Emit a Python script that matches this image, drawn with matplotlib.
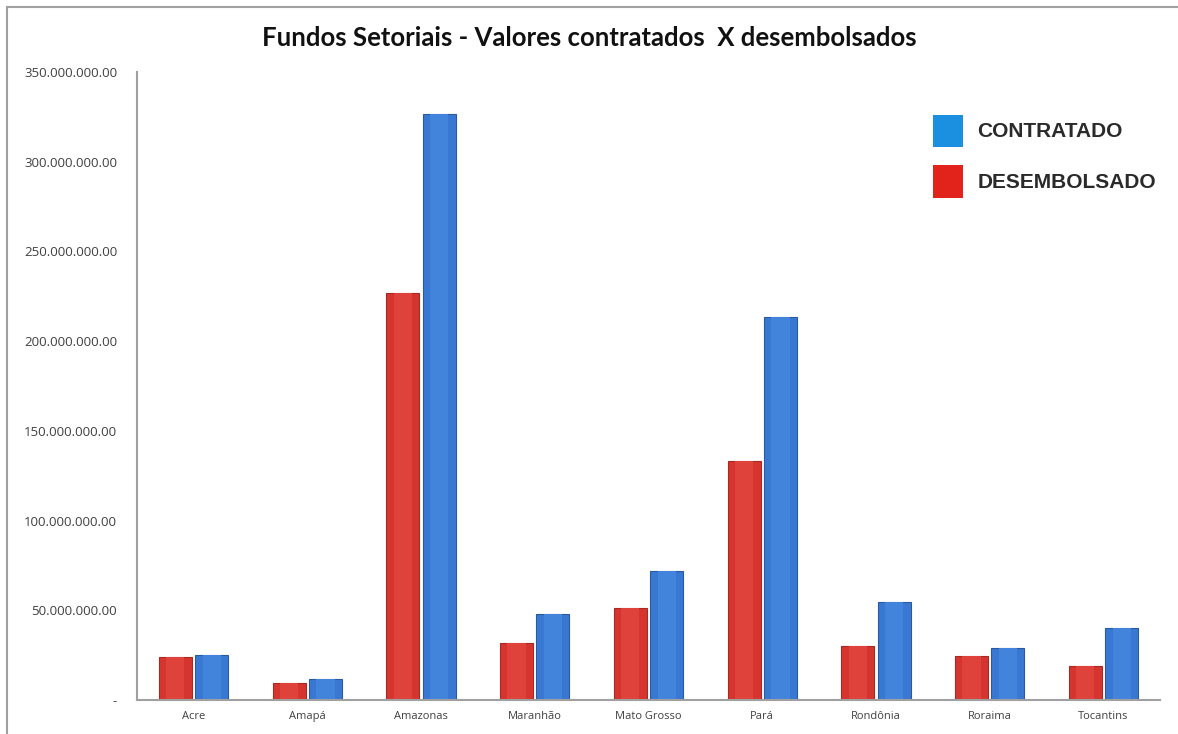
import matplotlib
matplotlib.use("Agg")
import matplotlib.pyplot as plt
import numpy as np
from matplotlib.patches import Patch, Rectangle
from matplotlib.ticker import FuncFormatter, MultipleLocator

categories = ["Acre", "Amapá", "Amazonas", "Maranhão", "Mato Grosso", "Pará",
              "Rondônia", "Roraima", "Tocantins"]
desembolsado = [23.9e6, 9.4e6, 227e6, 32e6, 51.5e6, 133e6, 30e6, 24.5e6, 19e6]
contratado = [25e6, 12e6, 326.5e6, 48e6, 72e6, 213.5e6, 55e6, 29e6, 40.5e6]
title = "Fundos Setoriais - Valores contratados  X desembolsados"

fig = plt.figure(figsize=(11.78, 7.34), dpi=100)
fig.patch.set_facecolor("white")
fig.add_artist(Rectangle((0.006, -0.01), 1.0, 1.0, transform=fig.transFigure,
                         fill=False, edgecolor="#a0a0a0", linewidth=1.5))
ax = fig.add_axes([0.116, 0.046, 0.869, 0.856])

x = np.arange(len(categories))
w = 0.29
gap = 0.015
red = "#d6352f"
blue = "#3978d2"
ax.bar(x - w / 2 - gap, desembolsado, width=w, color=red, edgecolor="#a52a24", linewidth=0.8)
ax.bar(x + w / 2 + gap, contratado, width=w, color=blue, edgecolor="#2a5a9e", linewidth=0.8)
# subtle highlight inside bars
ax.bar(x - w / 2 - gap, desembolsado, width=w * 0.55, color="#df423b", linewidth=0)
ax.bar(x + w / 2 + gap, contratado, width=w * 0.55, color="#4284dc", linewidth=0)

ax.set_xlim(-0.5, len(categories) - 0.5)
ax.set_ylim(0, 350e6)
ax.yaxis.set_major_locator(MultipleLocator(50e6))

def fmt(v, pos):
    if v == 0:
        return "-"
    return f"{v:,.2f}".replace(",", ".")

ax.yaxis.set_major_formatter(FuncFormatter(fmt))
ax.set_xticks(x)
ax.set_xticklabels(categories)
ax.tick_params(axis="both", length=0, colors="#404040", labelfontfamily="Open Sans")
ax.tick_params(axis="y", pad=14, labelsize=9.5)
ax.tick_params(axis="x", pad=8, labelsize=8)
for s in ["top", "right"]:
    ax.spines[s].set_visible(False)
ax.spines["left"].set_color("#a0a0a0")
ax.spines["bottom"].set_color("#a0a0a0")
ax.spines["left"].set_linewidth(1.5)
ax.spines["bottom"].set_linewidth(1.5)

fig.text(0.5, 0.948, title, ha="center", va="center", fontsize=18.5, fontweight="bold",
         family="Lato", color="#111111")

handles = [Patch(facecolor="#1b8fe0", edgecolor="none"), Patch(facecolor="#e1231c", edgecolor="none")]
leg = ax.legend(handles, ["CONTRATADO", "DESEMBOLSADO"], loc="upper left",
                bbox_to_anchor=(0.76, 0.962), frameon=False, handlelength=1.4,
                handleheight=2.0, handletextpad=0.7, labelspacing=0.9,
                prop={"family": "Liberation Sans", "weight": "bold", "size": 15})
for t in leg.get_texts():
    t.set_color("#2a2a2a")

fig.savefig("out.png", dpi=100)
